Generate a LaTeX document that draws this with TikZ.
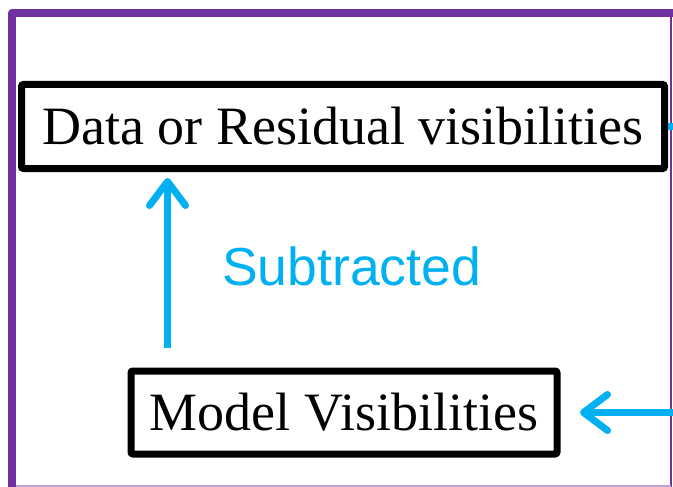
\documentclass[tikz,border=0pt]{standalone}
\usepackage{fontspec}
\setmainfont{Liberation Serif}
\newfontfamily\labelfont{Liberation Sans}
\usetikzlibrary{arrows.meta,calc}
\definecolor{framepurple}{HTML}{7030A0}
\definecolor{flowcyan}{HTML}{00B0F0}
\tikzset{
	visbox/.style={draw=black, line width=7pt, rounded corners=2pt, inner sep=0pt, font=\fontsize{54}{60}\selectfont},
	flow/.style={draw=flowcyan, line width=7pt, -{Straight Barb[length=24pt,width=36pt,round]}}
}

\begin{document}
\begin{tikzpicture}[x=1pt, y=-1pt]
			%%%%% START %%%%%
			\useasboundingbox (0, 0) rectangle (673, 487);
			
			\draw[framepurple, line width=8pt, line join=round] (12, 487) -- (12, 13) -- (673, 13);
			\draw[framepurple, line width=1.5pt] (671, 17) -- (671, 487);
			\draw[framepurple!45, line width=1.5pt] (16, 486) -- (671, 486);
			
			\node[visbox, minimum width=643pt, minimum height=84pt] (data) at (343, 126.5) {Data or Residual visibilities};
			\node[visbox, minimum width=426pt, minimum height=83pt] (model) at (344, 412.5) {Model Visibilities};
			
			\node[anchor=base west, text=flowcyan, inner sep=0pt, font=\labelfont\fontsize{53.5}{60}\selectfont] (sublbl) at (222, 285) {Subtracted};
			
			\coordinate (outR) at (673, 126.5);
			\coordinate (inR) at (673, 412.5);
			
			\draw[flow, shorten <=19.5pt, shorten >=6pt] ([xshift=40pt]model.north west) -- ([xshift=40pt]model.north west |- data.south);
			\draw[flow, shorten >=19.5pt] (inR) -- (model.east);
			\draw[flowcyan, line width=7pt] (data.east) -- (outR);
			
			%%%%% END %%%%%
\end{tikzpicture}
\end{document}
